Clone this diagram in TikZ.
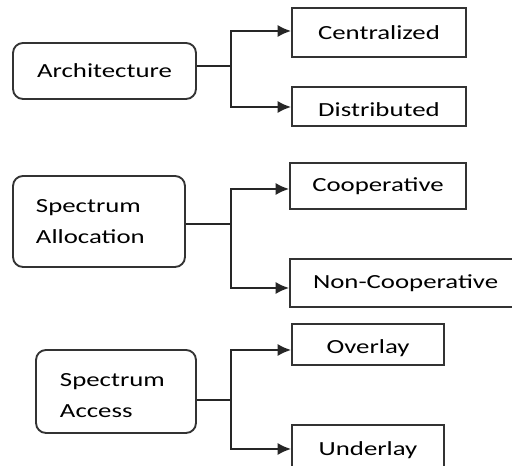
\documentclass[tikz,border=0pt]{standalone}
\usepackage{fontspec}
\setmainfont{Carlito}[FakeStretch=1.34]
\usetikzlibrary{arrows.meta}
\newcommand\lowered[2]{\raisebox{-#1}[\height][\depth]{#2}}
\begin{document}
\begin{tikzpicture}[x=0.75pt,y=-0.75pt,
  every node/.style={font=\fontsize{15}{23}\selectfont, text=black, inner sep=0pt},
  roundbox/.style={draw=black!80, line width=1.4pt, rounded corners=7.5pt},
  leafbox/.style={draw=black!80, line width=1.4pt},
  conn/.style={draw=black!85, line width=1.4pt},
  arr/.style={conn, -{Latex[length=10pt,width=9pt]}}]
\useasboundingbox (0,0) rectangle (512,466);
\clip (0,0) rectangle (512,466);
\fill[white] (0,0) rectangle (512,466);
% parents
\node[roundbox, minimum width=137.25pt, minimum height=42pt] (arch) at (104.5,71) {Architecture};
\node[roundbox, minimum width=129pt, minimum height=68.25pt, text width=94.5pt, align=left] (alloc) at (99,221.5) {Spectrum\\Allocation};
\node[roundbox, minimum width=120pt, minimum height=62.25pt, text width=84pt, align=left] (access) at (116,391.5) {\lowered{3pt}{Spectrum}\\\lowered{3pt}{Access}};
% leaves
\node[leafbox, minimum width=130.5pt, minimum height=36.75pt] (cent) at (379,32.5) {Centralized};
\node[leafbox, minimum width=130.5pt, minimum height=29.25pt] (dist) at (379,106.5) {\lowered{2.5pt}{Distributed}};
\node[leafbox, minimum width=132pt, minimum height=34.5pt] (coop) at (378,186) {Cooperative};
\node[leafbox, minimum width=172.5pt, minimum height=36pt] (noncoop) at (405,283) {\makebox[138pt][l]{Non-Cooperative}};
\node[leafbox, minimum width=114pt, minimum height=30.75pt] (over) at (368,344.5) {\lowered{2.5pt}{Overlay}};
\node[leafbox, minimum width=114pt, minimum height=37.5pt] (under) at (368,450) {Underlay};
% junctions
\coordinate (j1) at (231,66);
\coordinate (j2) at (231,224);
\coordinate (j3) at (231,400);
% connectors
\draw[conn] (arch.east |- j1) -- (j1);
\draw[arr] (j1) |- (cent.west |- 0,31);
\draw[arr] (j1) |- (dist.west |- 0,107);
\draw[conn] (alloc.east |- j2) -- (j2);
\draw[arr] (j2) |- (coop.west |- 0,189);
\draw[arr] (j2) |- (noncoop.west |- 0,288);
\draw[conn] (access.east |- j3) -- (j3);
\draw[arr] (j3) |- (over.west |- 0,350);
\draw[arr] (j3) |- (under.west |- 0,449);
\end{tikzpicture}
\end{document}
